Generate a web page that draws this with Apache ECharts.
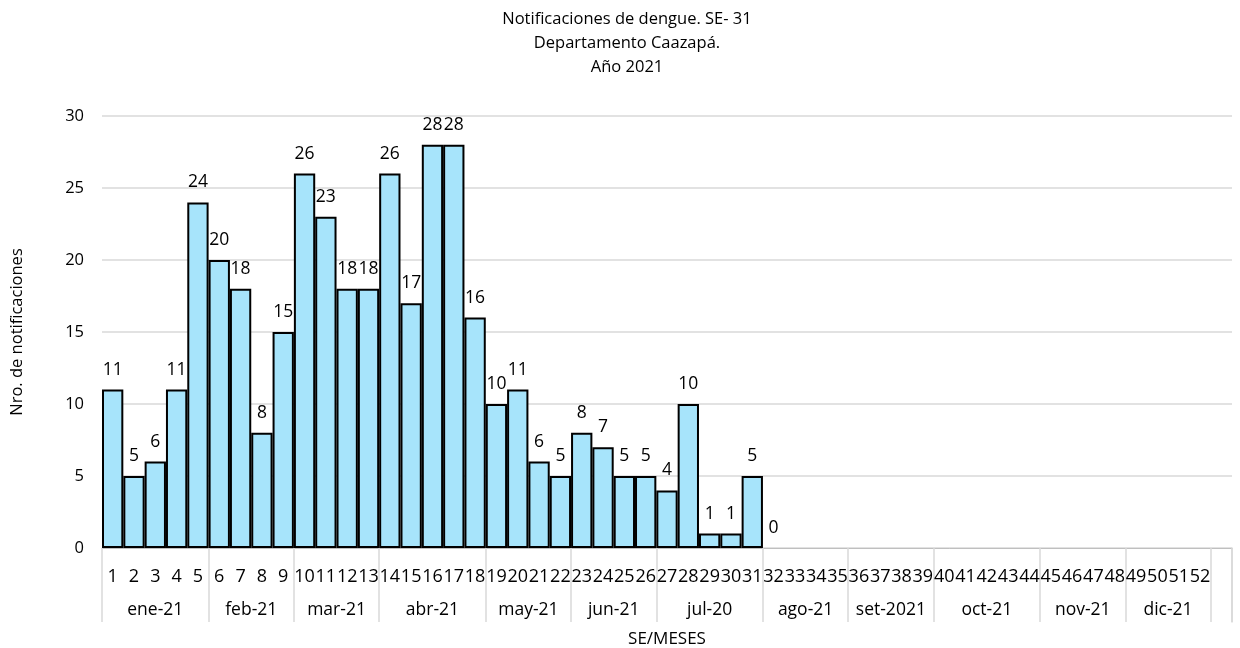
<!DOCTYPE html>
<html>
<head>
    <meta charset="utf-8">
    <title>Notificaciones de dengue - Caazapá 2021</title>
    <script src="https://cdn.jsdelivr.net/npm/echarts@6/dist/echarts.min.js"></script>
    <style>
        html, body { margin: 0; padding: 0; background: #fff; }
        #chart { width: 1240px; height: 648px; }
    </style>
</head>
<body>
    <div id="chart"></div>
    <script>
        // semanas epidemiologicas (53 casillas, la ultima vacia)
        var semanas = [];
        for (var i = 1; i <= 52; i++) semanas.push(String(i));
        semanas.push('');

        // notificaciones por semana (SE 1 - 32)
        var notificaciones = [11, 5, 6, 11, 24, 20, 18, 8, 15, 26, 23, 18, 18, 26, 17, 28, 28, 16,
            10, 11, 6, 5, 8, 7, 5, 5, 4, 10, 1, 1, 5, 0];

        // meses y cantidad de semanas de cada uno
        var meses = ['ene-21', 'feb-21', 'mar-21', 'abr-21', 'may-21', 'jun-21', 'jul-20',
            'ago-21', 'set-2021', 'oct-21', 'nov-21', 'dic-21'];
        var semanasPorMes = [5, 4, 4, 5, 4, 4, 5, 4, 4, 5, 4, 4];

        // indices donde empieza cada mes (separadores) y centros de cada grupo
        var limites = [0], centros = [];
        var acum = 0;
        for (var m = 0; m < semanasPorMes.length; m++) {
            centros.push(acum + semanasPorMes[m] / 2);
            acum += semanasPorMes[m];
            limites.push(acum);
        }

        var datos = notificaciones.map(function (v) {
            if (v === 0) return { value: v, itemStyle: { borderWidth: 0 } };
            return v;
        });

        var gris = '#d9d9d9';
        var fuente = '"Open Sans", "Noto Sans", sans-serif';
        var myChart = echarts.init(document.getElementById('chart'));
        var option = {
            textStyle: { fontFamily: fuente },
            title: {
                text: 'Notificaciones de dengue. SE- 31\nDepartamento Caazapá.\nAño 2021',
                left: 622,
                textAlign: 'center',
                top: 2,
                textStyle: { fontSize: 16.5, fontWeight: 'normal', color: '#000', lineHeight: 24, fontFamily: fuente }
            },
            grid: [
                { left: 102, right: 8, top: 116, bottom: 100, outerBoundsMode: 'none', containLabel: false },
                // franja de etiquetas (solo para el borde derecho de la tabla)
                { left: 102, right: 8, top: 548, height: 74, outerBoundsMode: 'none', containLabel: false }
            ],
            xAxis: [
                {
                    type: 'category',
                    data: semanas,
                    axisLine: { lineStyle: { color: '#bfbfbf', width: 1 } },
                    axisTick: {
                        show: true,
                        length: 74,
                        interval: function (index) {
                            return limites.indexOf(index) >= 0;
                        },
                        lineStyle: { color: gris, width: 1.5 }
                    },
                    axisLabel: { interval: 0, hideOverlap: false, color: '#000', fontSize: 18, margin: 20 }
                },
                {
                    type: 'value',
                    position: 'bottom',
                    min: 0,
                    max: 53,
                    axisLine: { show: false },
                    splitLine: { show: false },
                    axisTick: { show: false },
                    axisLabel: {
                        customValues: centros,
                        margin: 53,
                        color: '#000',
                        fontSize: 17.5,
                        formatter: function (v) {
                            var k = centros.indexOf(v);
                            return k >= 0 ? meses[k] : '';
                        }
                    },
                    name: 'SE/MESES',
                    nameLocation: 'middle',
                    nameGap: 83,
                    nameTextStyle: { color: '#000', fontSize: 17 }
                },
                {
                    type: 'value',
                    gridIndex: 1,
                    min: 0,
                    max: 1,
                    show: false
                }
            ],
            yAxis: [
                {
                    type: 'value',
                    min: 0,
                    max: 30,
                    interval: 5,
                    name: 'Nro. de notificaciones',
                    nameLocation: 'middle',
                    nameGap: 76,
                    nameTextStyle: { color: '#000', fontSize: 16.5 },
                    axisLine: { show: false },
                    axisTick: { show: false },
                    axisLabel: { color: '#000', fontSize: 16.5, margin: 18 },
                    splitLine: { lineStyle: { color: gris, width: 1.5 } }
                },
                {
                    type: 'value',
                    gridIndex: 1,
                    position: 'right',
                    min: 0,
                    max: 1,
                    axisLine: { show: true, onZero: false, lineStyle: { color: gris, width: 1.5 } },
                    axisTick: { show: false },
                    axisLabel: { show: false },
                    splitLine: { show: false }
                }
            ],
            series: [
                {
                    name: 'Notificaciones',
                    type: 'bar',
                    xAxisIndex: 0,
                    yAxisIndex: 0,
                    data: datos,
                    barCategoryGap: '0%',
                    itemStyle: { color: '#a7e4fb', borderColor: '#000', borderWidth: 2 },
                    label: { show: true, position: 'top', distance: 11, color: '#000', fontSize: 17.5 }
                }
            ]
        };
        myChart.setOption(option);
    </script>
</body>
</html>
